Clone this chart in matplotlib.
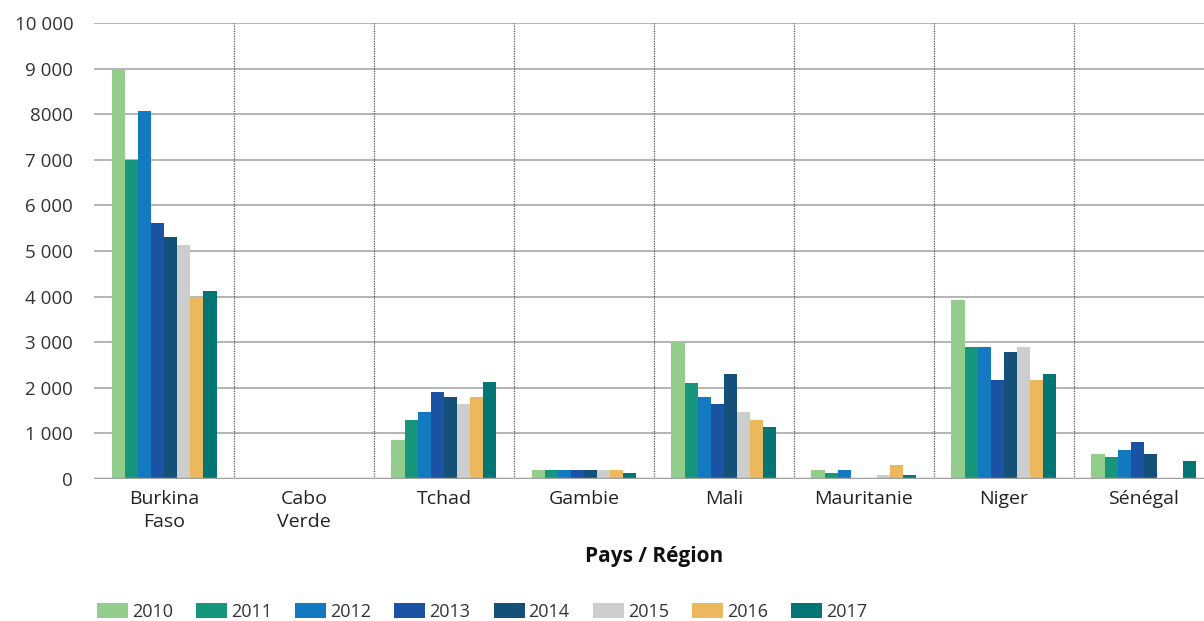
import matplotlib
matplotlib.use("Agg")
import matplotlib.pyplot as plt
import numpy as np
from matplotlib.patches import Patch

plt.rcParams['font.family'] = ['Open Sans', 'DejaVu Sans']

categories = ["Burkina\nFaso", "Cabo\nVerde", "Tchad", "Gambie", "Mali", "Mauritanie", "Niger", "Sénégal"]
years = ["2010", "2011", "2012", "2013", "2014", "2015", "2016", "2017"]
values = {
    "2010": [9000, 0, 850, 200, 3000, 200, 3920, 550],
    "2011": [7000, 0, 1290, 200, 2100, 130, 2900, 480],
    "2012": [8080, 0, 1470, 200, 1800, 200, 2900, 640],
    "2013": [5610, 0, 1910, 200, 1650, 0, 2180, 810],
    "2014": [5300, 0, 1800, 200, 2300, 0, 2790, 550],
    "2015": [5130, 0, 1650, 200, 1460, 90, 2900, 0],
    "2016": [4000, 0, 1800, 200, 1290, 300, 2180, 0],
    "2017": [4120, 0, 2130, 130, 1140, 90, 2300, 400],
}
colors = ["#93CD8B", "#16967B", "#137AC2", "#1A53A3", "#145078", "#CCCECD", "#EBB85D", "#037575"]
ytick_vals = [0, 1000, 2000, 3000, 4000, 5000, 6000, 7000, 8000, 9000, 10000]
ytick_labels = ["0", "1 000", "2 000", "3 000", "4 000", "5 000", "6 000", "7 000", "8000", "9 000", "10 000"]

fig = plt.figure(figsize=(12.04, 6.21), dpi=100)
ax = fig.add_axes([94/1204, 142/621, 1120/1204, 456/621])

x = np.arange(len(categories))
n = len(years)
bw = 0.75 / n
for i, (y, c) in enumerate(zip(years, colors)):
    ax.bar(x - 0.375 + bw * (i + 0.5), values[y], width=bw, color=c, zorder=3, label=y)

ax.set_xlim(-0.5, len(categories) - 0.5)
ax.set_ylim(0, 10000)
ax.set_yticks(ytick_vals)
ax.set_yticklabels(ytick_labels, fontsize=13.5, color="#333333")
ax.set_xticks(x)
ax.set_xticklabels(categories, fontsize=14, color="#222222", linespacing=1.35)
ax.tick_params(axis='both', length=0)
ax.tick_params(axis='y', pad=15)
ax.tick_params(axis='x', pad=8)

for yv in ytick_vals[1:]:
    ax.axhline(yv, color="#a8a8a8", lw=1.2, zorder=1)
ax.axhline(0, color="#a0a0a0", lw=2.5, zorder=4)
for b in np.arange(0.5, len(categories) - 0.5, 1.0):
    ax.axvline(b, color="#555555", lw=0.9, ls=(0, (1, 1)), zorder=1)

for s in ax.spines.values():
    s.set_visible(False)

ax.set_xlabel("Pays / Région", fontsize=15, fontweight="bold", color="#111111", labelpad=11)

handles = [Patch(facecolor=c, label=y) for y, c in zip(years, colors)]
fig.legend(handles=handles, loc="lower left", bbox_to_anchor=(97/1204, 0.0), ncol=8,
           frameon=False, fontsize=13, handlelength=1.72, handleheight=0.9,
           columnspacing=1.28, handletextpad=0.22, labelcolor="#333333",
           borderpad=0, borderaxespad=0)

fig.savefig("out.png", dpi=100)
